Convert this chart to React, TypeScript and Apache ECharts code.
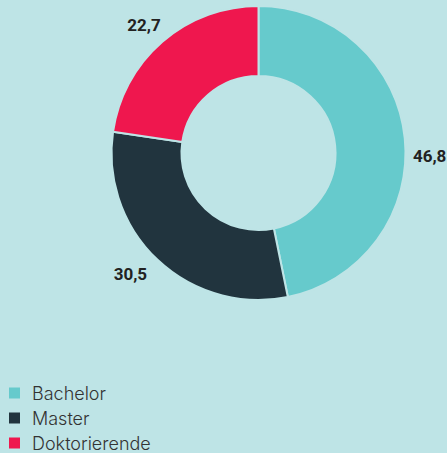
import React, { useEffect, useRef } from "react";
import * as echarts from "echarts";

const categories = ["Bachelor", "Master", "Doktorierende"];
const values = [46.8, 30.5, 22.7];
const colors = ["#66cacc", "#21343e", "#ef174e"];
const BG = "#bee4e6";

export default function App() {
  const ref = useRef<HTMLDivElement>(null);
  useEffect(() => {
    document.body.style.margin = "0";
    document.body.style.background = BG;
    const chart = echarts.init(ref.current!, null, { renderer: "svg" });
    const fmt = (p: any) => String(p.value).replace(".", ",");
    chart.setOption({
      animation: false,
      backgroundColor: BG,
      color: colors,
      legend: {
        orient: "vertical",
        left: 7,
        top: 384,
        height: 100,
        padding: 0,
        itemWidth: 13,
        itemHeight: 13,
        itemGap: 7,
        icon: "rect",
        textStyle: {
          fontFamily: "Inter",
          fontSize: 18,
          fontWeight: 300,
          color: "#333",
          padding: [0, 0, 0, 6],
        },
        data: categories,
      },
      series: [
        {
          type: "pie",
          center: [258.5, 153],
          radius: [77, 147],
          startAngle: 90,
          clockwise: true,
          itemStyle: { borderColor: BG, borderWidth: 2 },
          label: { show: false },
          labelLine: { show: false },
          emphasis: { disabled: true },
          data: categories.map((name, i) => ({ name, value: values[i] })),
        },
        {
          type: "pie",
          center: [258.5, 153],
          radius: [150, 188],
          startAngle: 90,
          clockwise: true,
          silent: true,
          itemStyle: { color: "transparent" },
          emphasis: { disabled: true },
          label: {
            show: true,
            position: "inside",
            fontFamily: "Roboto",
            fontWeight: "bold",
            fontSize: 17,
            color: "#222",
            formatter: fmt,
          },
          labelLine: { show: false },
          data: categories.map((name, i) => ({
            name,
            value: values[i],
            label:
              i === 0
                ? { offset: [0, 20] }
                : i === 1
                ? { offset: [-10, -4] }
                : { offset: [-2, 2] },
          })),
        },
      ],
    });
    return () => chart.dispose();
  }, []);
  return <div ref={ref} style={{ width: 447, height: 453 }} />;
}
